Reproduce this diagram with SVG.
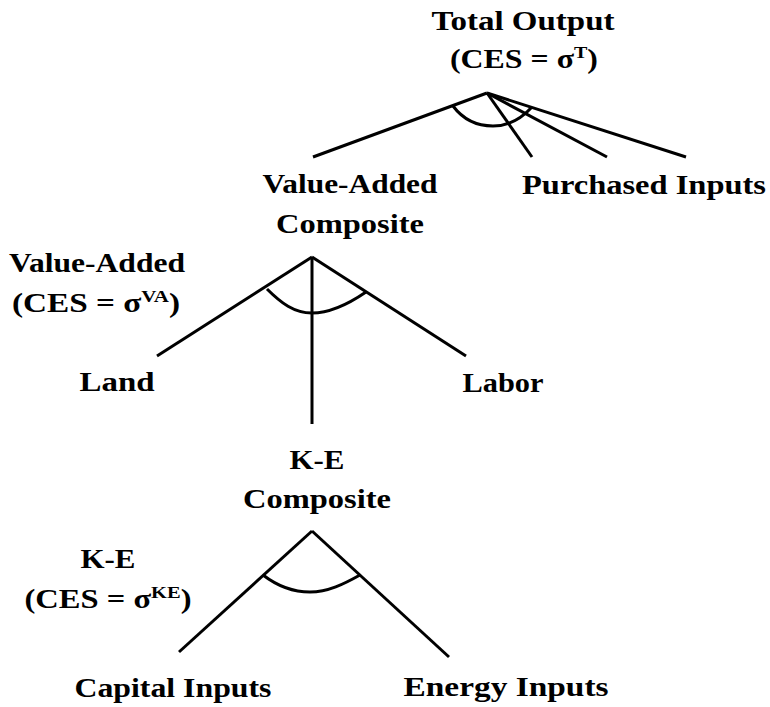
<svg xmlns="http://www.w3.org/2000/svg" width="770" height="707" viewBox="0 0 770 707" font-family="Liberation Serif, serif" font-weight="bold">
<style>
  .t { font-family: 'Liberation Serif', serif; font-weight: bold; font-size: 27px; fill: #000; text-anchor: middle; }
  .sup { font-size: 17px; }
  .ln { stroke: #000; stroke-width: 3; fill: none; stroke-linecap: butt; }
</style>
<rect width="770" height="707" fill="#fff"/>
<g id="connectors">
  <line class="ln" x1="487" y1="93" x2="313" y2="157"/>
  <line class="ln" x1="487" y1="93" x2="532" y2="157"/>
  <line class="ln" x1="487" y1="93" x2="607" y2="157"/>
  <line class="ln" x1="487" y1="93" x2="686" y2="157"/>
  <path class="ln" d="M453,106 C462,118 476,126 493,126 C510,126 522,118 532,107"/>
  <line class="ln" x1="312" y1="257" x2="157" y2="356"/>
  <line class="ln" x1="312" y1="257" x2="466" y2="356"/>
  <line class="ln" x1="312" y1="257" x2="312" y2="424"/>
  <path class="ln" d="M267,289 C281,303 294,313 312,313 C332,313 350,303 366,292"/>
  <line class="ln" x1="312" y1="531" x2="179" y2="652"/>
  <line class="ln" x1="312" y1="531" x2="449" y2="657"/>
  <path class="ln" d="M263,575 C276,585 292,592 310,592 C328,592 344,584 360,575"/>
</g>
<g id="total-output">
  <text class="t" x="523" y="30" textLength="183" lengthAdjust="spacingAndGlyphs">Total Output</text>
  <text class="t" x="524" y="68" textLength="148" lengthAdjust="spacingAndGlyphs">(CES = σ<tspan class="sup" dy="-10">T</tspan><tspan dy="10">)</tspan></text>
</g>
<g id="value-added-composite">
  <text class="t" x="350" y="193" textLength="175" lengthAdjust="spacingAndGlyphs">Value-Added</text>
  <text class="t" x="350" y="233" textLength="148" lengthAdjust="spacingAndGlyphs">Composite</text>
</g>
<g id="purchased-inputs">
  <text class="t" x="644" y="194" textLength="244" lengthAdjust="spacingAndGlyphs">Purchased Inputs</text>
</g>
<g id="value-added-ces">
  <text class="t" x="97" y="272" textLength="176" lengthAdjust="spacingAndGlyphs">Value-Added</text>
  <text class="t" x="96" y="312" textLength="168" lengthAdjust="spacingAndGlyphs">(CES = σ<tspan class="sup" dy="-10">VA</tspan><tspan dy="10">)</tspan></text>
</g>
<g id="land">
  <text class="t" x="117" y="391" textLength="75" lengthAdjust="spacingAndGlyphs">Land</text>
</g>
<g id="labor">
  <text class="t" x="503" y="392" textLength="81" lengthAdjust="spacingAndGlyphs">Labor</text>
</g>
<g id="ke-composite">
  <text class="t" x="317" y="469" textLength="55" lengthAdjust="spacingAndGlyphs">K-E</text>
  <text class="t" x="317" y="508" textLength="148" lengthAdjust="spacingAndGlyphs">Composite</text>
</g>
<g id="ke-ces">
  <text class="t" x="108" y="568" textLength="55" lengthAdjust="spacingAndGlyphs">K-E</text>
  <text class="t" x="108" y="608" textLength="167" lengthAdjust="spacingAndGlyphs">(CES = σ<tspan class="sup" dy="-10">KE</tspan><tspan dy="10">)</tspan></text>
</g>
<g id="capital-inputs">
  <text class="t" x="173" y="697" textLength="197" lengthAdjust="spacingAndGlyphs">Capital Inputs</text>
</g>
<g id="energy-inputs">
  <text class="t" x="506" y="696" textLength="205" lengthAdjust="spacingAndGlyphs">Energy Inputs</text>
</g>
</svg>
